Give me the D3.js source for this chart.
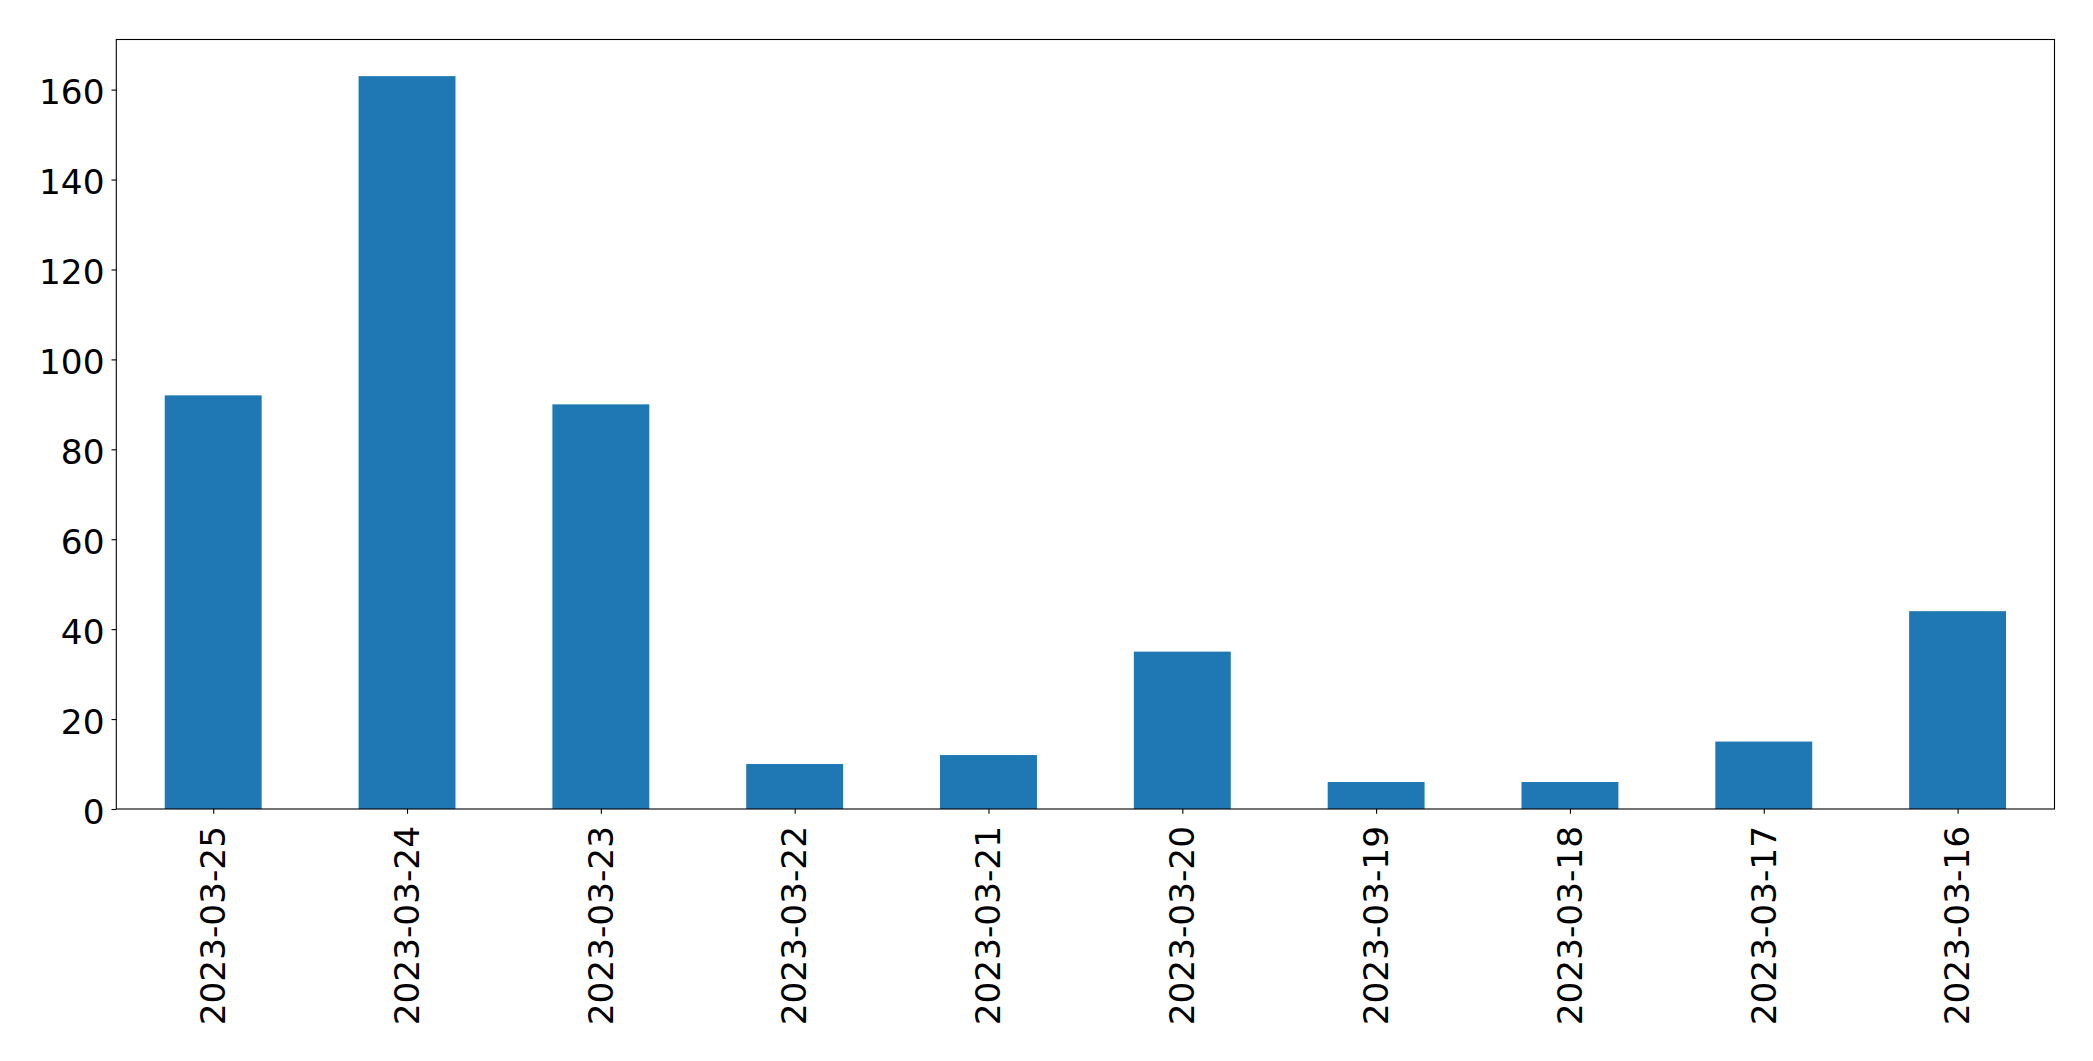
<!DOCTYPE html>
<html>
<head>
<meta charset="utf-8">
<script src="https://cdn.jsdelivr.net/npm/d3@7"></script>
<style>
  html, body { margin: 0; padding: 0; background: #fff; }
  svg { display: block; }
</style>
</head>
<body>
<script>
const categories = ["2023-03-25","2023-03-24","2023-03-23","2023-03-22","2023-03-21","2023-03-20","2023-03-19","2023-03-18","2023-03-17","2023-03-16"];
const values = [92, 163, 90, 10, 12, 35, 6, 6, 15, 44];
const yTicks = [0, 20, 40, 60, 80, 100, 120, 140, 160];

const W = 2093, H = 1061;
const mLeft = 116.3, mRight = 2054.5, mTop = 39.5, mBottom = 809;
const fontSize = 34.3;
const tickLen = 4.8;

const svg = d3.select("body").append("svg").attr("width", W).attr("height", H);

const x = d3.scaleLinear().domain([-0.5, categories.length - 0.5]).range([mLeft, mRight]);
const yMax = d3.max(values) * 1.05;
const y = d3.scaleLinear().domain([0, yMax]).range([mBottom, mTop]);

// bars
svg.append("g").selectAll("rect").data(values).join("rect")
  .attr("x", (d, i) => x(i - 0.25))
  .attr("width", (d, i) => x(i + 0.25) - x(i - 0.25))
  .attr("y", d => y(d))
  .attr("height", d => y(0) - y(d))
  .attr("fill", "#1f77b4");

// y axis
const yAxis = d3.axisLeft(y).tickValues(yTicks).tickSize(tickLen).tickPadding(7).tickFormat(d3.format("d"));
const gy = svg.append("g").attr("transform", `translate(${mLeft},0)`).call(yAxis);
gy.select(".domain").remove();
gy.selectAll(".tick line").attr("stroke", "#000").attr("stroke-width", 1.1);
gy.selectAll(".tick text").attr("font-family", "DejaVu Sans").attr("font-size", fontSize).attr("fill", "#000")
  .attr("dy", "0.41em");

// x axis
const xAxis = d3.axisBottom(x).tickValues(d3.range(categories.length)).tickSize(tickLen).tickPadding(0).tickFormat(i => categories[i]);
const gx = svg.append("g").attr("transform", `translate(0,${mBottom})`).call(xAxis);
gx.select(".domain").remove();
gx.selectAll(".tick line").attr("stroke", "#000").attr("stroke-width", 1.1);
gx.selectAll(".tick text")
  .attr("font-family", "DejaVu Sans").attr("font-size", fontSize).attr("fill", "#000")
  .attr("text-anchor", "end")
  .attr("y", 0).attr("dy", "0.33em")
  .attr("transform", `translate(0,17) rotate(-90)`);

// frame
svg.append("rect")
  .attr("x", mLeft).attr("y", mTop)
  .attr("width", mRight - mLeft).attr("height", mBottom - mTop)
  .attr("fill", "none").attr("stroke", "#000").attr("stroke-width", 1.1);
</script>
</body>
</html>
